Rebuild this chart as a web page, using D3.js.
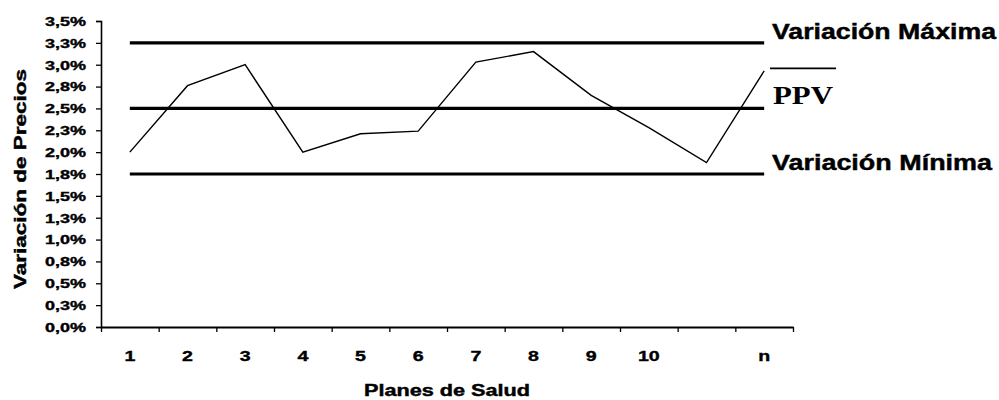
<!DOCTYPE html>
<html>
<head>
<meta charset="utf-8">
<script src="https://cdn.jsdelivr.net/npm/d3@7"></script>
<style>
  html, body { margin: 0; padding: 0; background: #fff; }
  svg { display: block; }
</style>
</head>
<body>
<svg id="chart" width="999" height="400"></svg>
<script>
// ---- data ----
const categories = ["1", "2", "3", "4", "5", "6", "7", "8", "9", "10", " ", "n"];
const priceVariation = [2.0, 2.76, 3.0, 2.0, 2.21, 2.24, 3.03, 3.15, 2.65, 2.28, 1.88, 2.93];
const maxVariation = 3.25;
const ppv = 2.5;
const minVariation = 1.75;
const yTickValues = [0, 0.25, 0.5, 0.75, 1.0, 1.25, 1.5, 1.75, 2.0, 2.25, 2.5, 2.75, 3.0, 3.25, 3.5];
const yTickLabels = ["0,0%", "0,3%", "0,5%", "0,8%", "1,0%", "1,3%", "1,5%", "1,8%", "2,0%", "2,3%", "2,5%", "2,8%", "3,0%", "3,3%", "3,5%"];
const xTitle = "Planes de Salud";
const yTitle = "Variación de Precios";
const refLabels = ["Variación Máxima", "PPV", "Variación Mínima"];

// ---- layout ----
const plotL = 101, plotR = 793, plotT = 21, plotB = 327;
const font = "'Liberation Sans', Arial, sans-serif";
const heavy = 0.45;
const svg = d3.select("#chart");

const x = d3.scaleBand().domain(categories).range([plotL, plotR]).padding(0);
const xIdx = d3.scaleLinear().domain([0, categories.length]).range([plotL, plotR]);
const y = d3.scaleLinear().domain([0, 3.5]).range([plotB, plotT]);
const cx = c => x(c) + x.bandwidth() / 2;

// y axis
const yAxis = svg.append("g")
  .attr("transform", `translate(${plotL},0)`)
  .call(d3.axisLeft(y).tickValues(yTickValues)
    .tickFormat((d, i) => yTickLabels[i]).tickSize(5).tickPadding(0));
yAxis.select(".domain").attr("stroke", "#000").attr("stroke-width", 1.6);
yAxis.selectAll(".tick line").attr("stroke", "#000").attr("stroke-width", 1.3);
yAxis.selectAll(".tick text")
  .attr("x", -15 / 1.5).attr("dy", "0.36em")
  .attr("transform", "scale(1.5,1)")
  .attr("font-family", font).attr("font-weight", "bold").attr("font-size", 12)
  .attr("fill", "#000").attr("stroke", "#000").attr("stroke-width", heavy * 0.8)
  .attr("text-anchor", "end");

// x axis boundary ticks
const xTicks = svg.append("g")
  .attr("transform", `translate(0,${plotB})`)
  .call(d3.axisBottom(xIdx).tickValues(d3.range(categories.length + 1))
    .tickFormat("").tickSize(5).tickSizeOuter(0));
xTicks.select(".domain").attr("stroke", "#000").attr("stroke-width", 1.8);
xTicks.selectAll(".tick line").attr("stroke", "#000").attr("stroke-width", 1.3);

// x labels
const xLab = svg.append("g")
  .attr("transform", `translate(0,${plotB})`)
  .call(d3.axisBottom(x).tickSize(0).tickPadding(0));
xLab.select(".domain").remove();
xLab.selectAll(".tick text")
  .attr("x", 0).attr("y", 34).attr("dy", 0)
  .attr("transform", "scale(1.4,1)")
  .attr("font-family", font).attr("font-weight", "bold").attr("font-size", 14)
  .attr("fill", "#000").attr("stroke", "#000").attr("stroke-width", heavy * 0.8);

// reference lines
const refs = [maxVariation, ppv, minVariation];
const first = categories[0], last = categories[categories.length - 1];
svg.append("g").selectAll("line").data(refs).join("line")
  .attr("x1", cx(first)).attr("x2", cx(last))
  .attr("y1", d => y(d)).attr("y2", d => y(d))
  .attr("stroke", "#000").attr("stroke-width", 3.2);

// data line
svg.append("path")
  .datum(priceVariation)
  .attr("fill", "none").attr("stroke", "#000").attr("stroke-width", 1.4)
  .attr("stroke-linejoin", "miter")
  .attr("d", d3.line().x((d, i) => cx(categories[i])).y(d => y(d)));

// right labels
const labX = 772;
svg.append("text").text(refLabels[0])
  .attr("x", labX).attr("y", y(maxVariation) - 4)
  .attr("font-family", font).attr("font-weight", "bold").attr("font-size", 22)
  .attr("textLength", 224).attr("lengthAdjust", "spacingAndGlyphs")
  .attr("fill", "#000").attr("stroke", "#000").attr("stroke-width", heavy);
svg.append("text").text(refLabels[1])
  .attr("x", labX + 1).attr("y", y(ppv) - 4)
  .attr("font-family", "'Liberation Serif', 'Times New Roman', serif").attr("font-weight", "bold").attr("font-size", 25)
  .attr("textLength", 60).attr("lengthAdjust", "spacingAndGlyphs").attr("fill", "#000");
svg.append("line")
  .attr("x1", labX - 2).attr("x2", labX + 64)
  .attr("y1", y(ppv) - 40).attr("y2", y(ppv) - 40)
  .attr("stroke", "#000").attr("stroke-width", 1.8);
svg.append("text").text(refLabels[2])
  .attr("x", labX).attr("y", y(minVariation) - 4)
  .attr("font-family", font).attr("font-weight", "bold").attr("font-size", 22)
  .attr("textLength", 220).attr("lengthAdjust", "spacingAndGlyphs")
  .attr("fill", "#000").attr("stroke", "#000").attr("stroke-width", heavy);

// axis titles
svg.append("text").text(xTitle)
  .attr("x", (plotL + plotR) / 2).attr("y", 396)
  .attr("text-anchor", "middle")
  .attr("font-family", font).attr("font-weight", "bold").attr("font-size", 17)
  .attr("textLength", 166).attr("lengthAdjust", "spacingAndGlyphs")
  .attr("fill", "#000").attr("stroke", "#000").attr("stroke-width", heavy);
svg.append("text").text(yTitle)
  .attr("transform", `translate(26,${(plotT + plotB) / 2 + 5}) rotate(-90)`)
  .attr("text-anchor", "middle")
  .attr("font-family", font).attr("font-weight", "bold").attr("font-size", 17)
  .attr("textLength", 220).attr("lengthAdjust", "spacingAndGlyphs")
  .attr("fill", "#000").attr("stroke", "#000").attr("stroke-width", heavy);
</script>
</body>
</html>
